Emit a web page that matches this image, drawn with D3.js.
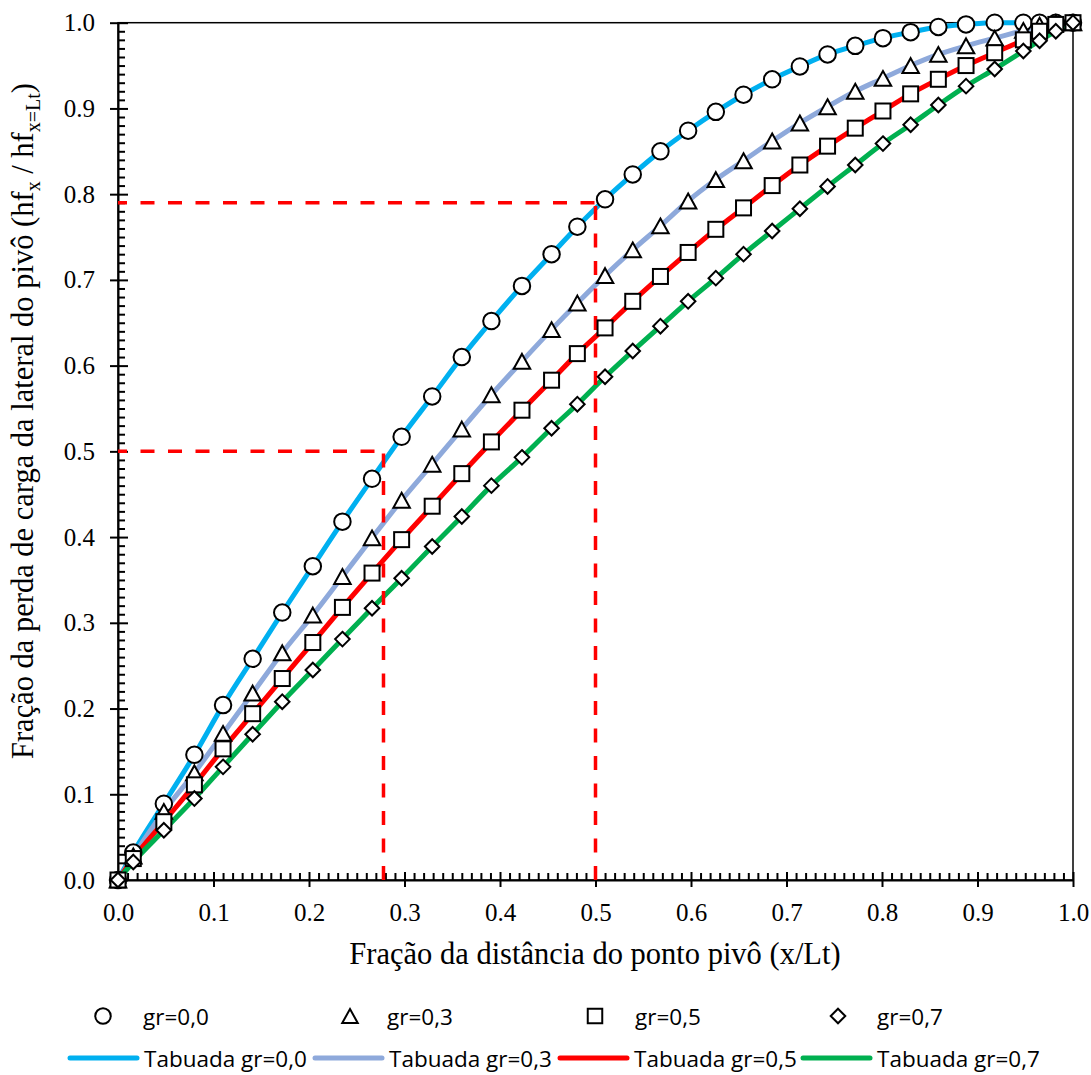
<!DOCTYPE html>
<html>
<head>
<meta charset="utf-8">
<script src="https://cdn.jsdelivr.net/npm/d3@7"></script>
<style>
  body { margin: 0; background: #fff; }
  svg { display: block; }
  .axis text { font-family: "Liberation Serif", "Times New Roman", serif; font-size: 25px; fill: #000; }
  .axis line, .axis path { stroke: #000; stroke-width: 2; }
  .title { font-family: "Liberation Serif", "Times New Roman", serif; font-size: 30.5px; fill: #000; }
  .legend text { font-family: "Open Sans", sans-serif; font-size: 22.5px; fill: #000; }
</style>
</head>
<body>
<div id="chart"></div>
<script>
// fraction of distance from the pivot point (x/Lt)
const xValues = [0.000, 0.016, 0.048, 0.080, 0.110, 0.141, 0.172, 0.204, 0.235, 0.266, 0.297, 0.329,
  0.360, 0.391, 0.423, 0.454, 0.481, 0.510, 0.539, 0.568, 0.597, 0.626, 0.655, 0.685,
  0.714, 0.743, 0.772, 0.801, 0.830, 0.859, 0.888, 0.918, 0.948, 0.965, 0.982, 1.000];

// head-loss fraction hf_x / hf_x=Lt for each gr
const gr00 = [0.000, 0.032, 0.089, 0.146, 0.204, 0.258, 0.312, 0.366, 0.418, 0.468, 0.517, 0.564,
  0.610, 0.652, 0.693, 0.730, 0.762, 0.794, 0.823, 0.850, 0.874, 0.896, 0.916, 0.934,
  0.949, 0.963, 0.973, 0.982, 0.989, 0.995, 0.998, 1.000, 1.000, 1.000, 1.000, 1.000];
const gr03 = [0.000, 0.028, 0.080, 0.125, 0.171, 0.218, 0.265, 0.309, 0.354, 0.399, 0.443, 0.485,
  0.526, 0.566, 0.605, 0.642, 0.673, 0.705, 0.735, 0.763, 0.792, 0.817, 0.839, 0.862,
  0.883, 0.902, 0.920, 0.935, 0.950, 0.963, 0.973, 0.982, 0.991, 0.997, 1.000, 1.000];
const gr05 = [0.000, 0.025, 0.068, 0.111, 0.153, 0.194, 0.235, 0.277, 0.318, 0.358, 0.397, 0.436,
  0.474, 0.511, 0.548, 0.583, 0.614, 0.644, 0.675, 0.704, 0.732, 0.759, 0.784, 0.810,
  0.834, 0.856, 0.877, 0.897, 0.917, 0.934, 0.950, 0.965, 0.980, 0.990, 0.998, 1.000];
const gr07 = [0.000, 0.021, 0.058, 0.095, 0.132, 0.170, 0.208, 0.245, 0.281, 0.317, 0.352, 0.389,
  0.424, 0.460, 0.493, 0.527, 0.555, 0.587, 0.617, 0.646, 0.675, 0.702, 0.730, 0.757,
  0.783, 0.809, 0.834, 0.859, 0.881, 0.904, 0.926, 0.946, 0.967, 0.979, 0.990, 1.000];

const seriesNames = ['gr=0,0', 'gr=0,3', 'gr=0,5', 'gr=0,7'];
const lineNames = ['Tabuada gr=0,0', 'Tabuada gr=0,3', 'Tabuada gr=0,5', 'Tabuada gr=0,7'];
const markerTypes = ['circle', 'triangle', 'square', 'diamond'];
const lineColors = ['#00B0F0', '#8EA9DB', '#FF0000', '#00B050'];
const tickValues = [0, 0.1, 0.2, 0.3, 0.4, 0.5, 0.6, 0.7, 0.8, 0.9, 1.0];

// red reference guides (x, y)
const guideX = [0.278, 0.5];
const guideY = [0.5, 0.79];

const width = 1091, height = 1075;
const plotLeft = 118, plotRight = 1073, plotTop = 22.7, plotBottom = 880;

const svg = d3.select('#chart').append('svg').attr('width', width).attr('height', height);

const x = d3.scaleLinear().domain([0, 1]).range([plotLeft, plotRight]);
const y = d3.scaleLinear().domain([0, 1]).range([plotBottom, plotTop]);

const allSeries = [gr00, gr03, gr05, gr07].map(ys => xValues.map((xv, i) => ({ x: xv, y: ys[i] })));

// plot border
svg.append('rect').attr('x', plotLeft).attr('y', plotTop).
attr('width', plotRight - plotLeft).attr('height', plotBottom - plotTop).
attr('fill', 'none').attr('stroke', '#000').attr('stroke-width', 1.5);

// minor ticks
const minorValues = d3.range(0, 101).map(i => i / 100).filter(v => Math.round(v * 100) % 10 !== 0);

svg.append('g').attr('class', 'axis').attr('transform', `translate(0, ${plotBottom})`).
call(d3.axisBottom(x).tickValues(minorValues).tickSize(-7).tickFormat('')).
call(g => g.select('.domain').remove());

svg.append('g').attr('class', 'axis').attr('transform', `translate(${plotLeft}, 0)`).
call(d3.axisLeft(y).tickValues(minorValues).tickSize(-7).tickFormat('')).
call(g => g.select('.domain').remove());

// major ticks, crossing the axis line
const xAxis = svg.append('g').attr('class', 'axis').attr('transform', `translate(0, ${plotBottom})`).
call(d3.axisBottom(x).tickValues(tickValues).tickFormat(d3.format('.1f')).tickSize(7).tickSizeOuter(0).tickPadding(16));
xAxis.selectAll('.tick line').attr('y1', -8);

const yAxis = svg.append('g').attr('class', 'axis').attr('transform', `translate(${plotLeft}, 0)`).
call(d3.axisLeft(y).tickValues(tickValues).tickFormat(d3.format('.1f')).tickSize(8).tickSizeOuter(0).tickPadding(15));
yAxis.selectAll('.tick line').attr('x1', 10);

// axis titles
svg.append('text').attr('class', 'title').attr('x', 595).attr('y', 964).
attr('text-anchor', 'middle').text('Fração da distância do ponto pivô (x/Lt)');

const yTitle = svg.append('text').attr('class', 'title').
attr('text-anchor', 'middle').attr('transform', 'translate(33, 421) rotate(-90)');
yTitle.append('tspan').text('Fração da perda de carga da lateral do pivô (hf');
yTitle.append('tspan').attr('dy', 7).style('font-size', '20px').text('x');
yTitle.append('tspan').attr('dy', -7).text(' / hf');
yTitle.append('tspan').attr('dy', 7).style('font-size', '20px').text('x=Lt');
yTitle.append('tspan').attr('dy', -7).text(')');

// tabulated curves
const line = d3.line().x(d => x(d.x)).y(d => y(d.y)).curve(d3.curveMonotoneX);

svg.append('g').selectAll('path').data(allSeries).enter().append('path').
attr('d', line).attr('fill', 'none').
attr('stroke', (d, i) => lineColors[i]).attr('stroke-width', 5).attr('stroke-linecap', 'round');

// dashed guides
const guides = svg.append('g').attr('stroke', '#FF0000').attr('stroke-width', 3.5).
attr('stroke-dasharray', '14,13.5').attr('fill', 'none');
guideX.forEach((gx, i) => {
  guides.append('line').attr('x1', x(0)).attr('x2', x(gx)).attr('y1', y(guideY[i])).attr('y2', y(guideY[i])).
  attr('stroke-dashoffset', 5);
  guides.append('line').attr('x1', x(gx)).attr('x2', x(gx)).attr('y1', y(0)).attr('y2', y(guideY[i]));
});

// marker shapes
function drawMarker(g, type, cx, cy, s) {
  if (type === 'circle') {
    return g.append('circle').attr('cx', cx).attr('cy', cy).attr('r', s / 2);
  }
  if (type === 'square') {
    return g.append('rect').attr('x', cx - s / 2 + 0.5).attr('y', cy - s / 2 + 0.5).attr('width', s - 1).attr('height', s - 1);
  }
  if (type === 'triangle') {
    const h = s * 0.45;
    return g.append('path').attr('d', `M${cx},${cy - h}L${cx + s / 2},${cy + h}L${cx - s / 2},${cy + h}Z`);
  }
  const r = s * 0.47;
  return g.append('path').attr('d', `M${cx},${cy - r}L${cx + r},${cy}L${cx},${cy + r}L${cx - r},${cy}Z`);
}

const markers = svg.append('g').attr('fill', '#fff').attr('stroke', '#000').attr('stroke-width', 2);
const markerSizes = [16.5, 16.5, 16, 15.5];
allSeries.forEach((points, i) => {
  points.forEach(p => drawMarker(markers, markerTypes[i], x(p.x), y(p.y), markerSizes[i]));
});

// legend
const legend = svg.append('g').attr('class', 'legend');
const markerX = [103, 350, 595, 838];
const labelX = [143, 387, 635, 877];
const lineStart = [70, 315, 560, 803];

const legendMarkers = legend.append('g').attr('fill', '#fff').attr('stroke', '#000').attr('stroke-width', 2);
seriesNames.forEach((name, i) => {
  drawMarker(legendMarkers, markerTypes[i], markerX[i], 1016, 15.5);
  legend.append('text').attr('x', labelX[i]).attr('y', 1025).text(name);
});

lineNames.forEach((name, i) => {
  legend.append('line').attr('x1', lineStart[i]).attr('x2', lineStart[i] + 67).
  attr('y1', 1058).attr('y2', 1058).attr('stroke', lineColors[i]).
  attr('stroke-width', 5).attr('stroke-linecap', 'round');
  legend.append('text').attr('x', lineStart[i] + 74).attr('y', 1067).text(name);
});
</script>
</body>
</html>
